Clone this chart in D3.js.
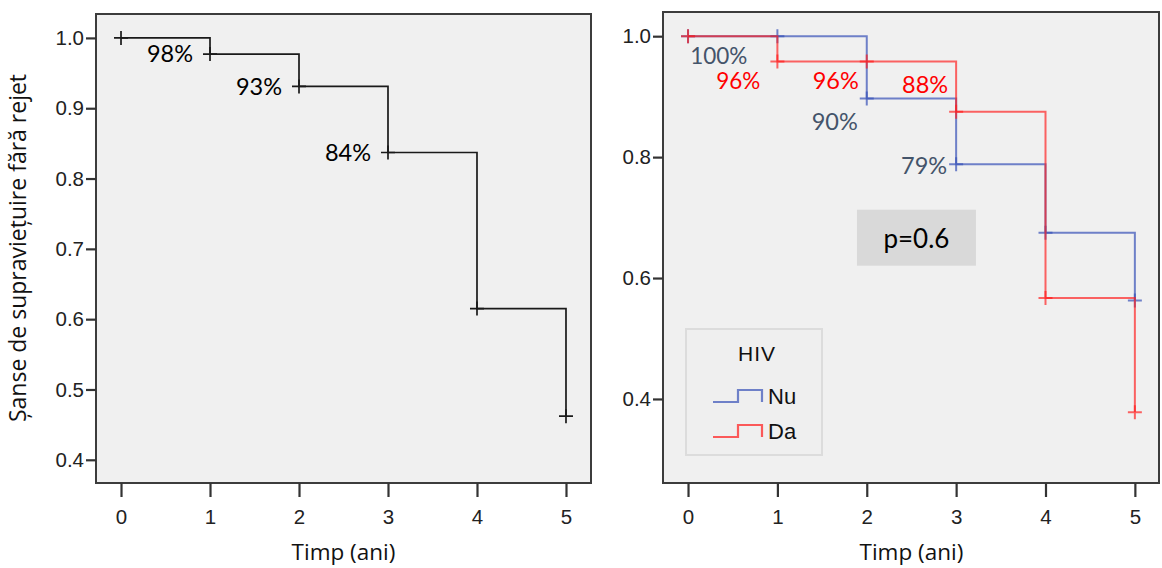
<!DOCTYPE html>
<html><head><meta charset="utf-8">
<script src="https://cdn.jsdelivr.net/npm/d3@7"></script>
<style>body{margin:0;background:#fff}svg{display:block}</style>
</head><body><svg id="c" width="1162" height="568"></svg>
<script>
// ---- data ----
const years = [0, 1, 2, 3, 4, 5];
const survAll = [1.0, 0.977, 0.931, 0.837, 0.615, 0.462];
const survNu = [1.0, 1.0, 0.897, 0.788, 0.675, 0.563];
const survDa = [1.0, 0.958, 0.958, 0.875, 0.567, 0.378];
const xTicks = [0, 1, 2, 3, 4, 5];
const yTicksLeft = [0.4, 0.5, 0.6, 0.7, 0.8, 0.9, 1.0];
const yTicksRight = [0.4, 0.6, 0.8, 1.0];
const labelsAll = [{t:1, v:0.977, txt:"98%"}, {t:2, v:0.931, txt:"93%"}, {t:3, v:0.837, txt:"84%"}];
const labelsNu = [{t:1, v:0.967, txt:"100%"}, {t:2, v:0.858, txt:"90%"}, {t:3, v:0.785, txt:"79%"}];
const labelsDa = [{t:1, v:0.925, txt:"96%"}, {t:2, v:0.927, txt:"96%"}, {t:3, v:0.920, txt:"88%"}];
const groups = ["Nu", "Da"];
const pText = "p=0.6";

const svg = d3.select("#c");
const tickFont = "'Liberation Sans', Arial, sans-serif";
const titleFont = "'Open Sans', 'Noto Sans', sans-serif";
const annFont = "Lato, 'Open Sans', sans-serif";

function panel(cfg) {
  const x = d3.scaleLinear().domain(cfg.xd).range([cfg.x0, cfg.x1]);
  const y = d3.scaleLinear().domain(cfg.yd).range([cfg.y1, cfg.y0]);
  const g = svg.append("g");
  g.append("rect").attr("x", cfg.x0).attr("y", cfg.y0)
    .attr("width", cfg.x1 - cfg.x0).attr("height", cfg.y1 - cfg.y0)
    .attr("fill", "#f0f0f0").attr("stroke", "#3c3c3c").attr("stroke-width", 2);
  const ya = g.append("g").attr("transform", `translate(${cfg.x0},0)`)
    .call(d3.axisLeft(y).tickValues(cfg.yt).tickFormat(d3.format(".1f")).tickSize(10).tickPadding(2));
  const xa = g.append("g").attr("transform", `translate(0,${cfg.y1})`)
    .call(d3.axisBottom(x).tickValues(xTicks).tickFormat(d3.format("d")).tickSize(14).tickPadding(12));
  [ya, xa].forEach(a => {
    a.select(".domain").remove();
    a.selectAll("line").attr("stroke", "#333").attr("stroke-width", 2.2);
    a.selectAll("text").attr("font-family", tickFont).attr("font-size", 20.5).attr("fill", "#222");
  });
  g.append("text").attr("x", (x(0) + x(5)) / 2).attr("y", 552).attr("dy", "0.35em")
    .attr("text-anchor", "middle").attr("font-family", titleFont).attr("font-size", 22.5).attr("fill", "#111")
    .text("Timp (ani)");
  return {g, x, y};
}

function curve(p, vals, color, width) {
  const pts = years.map((t, i) => [t, vals[i]]);
  const line = d3.line().x(d => p.x(d[0])).y(d => p.y(d[1])).curve(d3.curveStepAfter);
  p.g.append("path").attr("d", line(pts)).attr("fill", "none")
    .attr("stroke", color).attr("stroke-width", width);
  p.g.selectAll(null).data(pts).enter().append("path")
    .attr("d", d => `M${p.x(d[0]) - 7},${p.y(d[1])}H${p.x(d[0]) + 7}M${p.x(d[0])},${p.y(d[1]) - 7}V${p.y(d[1]) + 7}`)
    .attr("stroke", color).attr("stroke-width", width).attr("fill", "none");
}

function labels(p, arr, color, dx, size) {
  p.g.selectAll(null).data(arr).enter().append("text")
    .attr("x", d => p.x(d.t) - dx).attr("y", d => p.y(d.v))
    .attr("dy", "0.35em").attr("text-anchor", "end")
    .attr("font-family", annFont).attr("font-size", size || 23.5).attr("fill", color)
    .text(d => d.txt);
}

// left panel
const L = panel({x0: 96, x1: 591, y0: 14, y1: 483, xd: [-0.281, 5.281], yd: [0.367, 1.034], yt: yTicksLeft});
curve(L, survAll, "#1a1a1a", 1.7);
labels(L, labelsAll, "#000", 17);
svg.append("text").attr("transform", "translate(18,248) rotate(-90)")
  .attr("text-anchor", "middle").attr("dy", "0.35em").attr("font-family", titleFont).attr("font-size", 23).attr("fill", "#111")
  .text("Șanse de supraviețuire fără rejet");

// right panel
const R = panel({x0: 663, x1: 1159, y0: 12, y1: 483, xd: [-0.28, 5.27], yd: [0.261, 1.040], yt: yTicksRight});
curve(R, survNu, "rgba(60,85,185,0.72)", 2);
curve(R, survDa, "rgba(255,30,30,0.68)", 2);
labels(R, labelsNu.slice(0,1), "#44546a", 30, 22.5);
labels(R, labelsNu.slice(1), "#44546a", 9);
labels(R, labelsDa.slice(0,1), "#ff0000", 17, 22.5);
labels(R, labelsDa.slice(1), "#ff0000", 8);

// p-value box
R.g.append("rect").attr("x", R.x(1.89)).attr("y", R.y(0.713)).attr("width", 119).attr("height", 56).attr("fill", "#d9d9d9");
R.g.append("text").attr("x", R.x(1.89) + 59.5).attr("y", R.y(0.713) + 29).attr("dy", "0.35em")
  .attr("text-anchor", "middle").attr("font-family", annFont).attr("font-size", 26).attr("fill", "#000").text(pText);

// legend
const lg = R.g.append("g").attr("transform", "translate(686,329)");
lg.append("rect").attr("width", 136).attr("height", 126).attr("fill", "#efefef").attr("stroke", "#dcdcdc").attr("stroke-width", 2);
lg.append("text").attr("x", 71).attr("y", 25).attr("dy", "0.35em").attr("text-anchor", "middle")
  .attr("font-family", tickFont).attr("font-size", 21).attr("letter-spacing", 1).attr("fill", "#111").text("HIV");
const legColors = ["rgba(60,85,185,0.72)", "rgba(255,30,30,0.72)"];
groups.forEach((gname, i) => {
  const yy = 67 + i * 35;
  lg.append("path").attr("d", `M27,${yy + 6}H52V${yy - 6}H76V${yy + 6}`)
    .attr("fill", "none").attr("stroke", legColors[i]).attr("stroke-width", 2.2);
  lg.append("text").attr("x", 82).attr("y", yy).attr("dy", "0.35em")
    .attr("font-family", tickFont).attr("font-size", 22).attr("fill", "#111").text(gname);
});
</script></body></html>
